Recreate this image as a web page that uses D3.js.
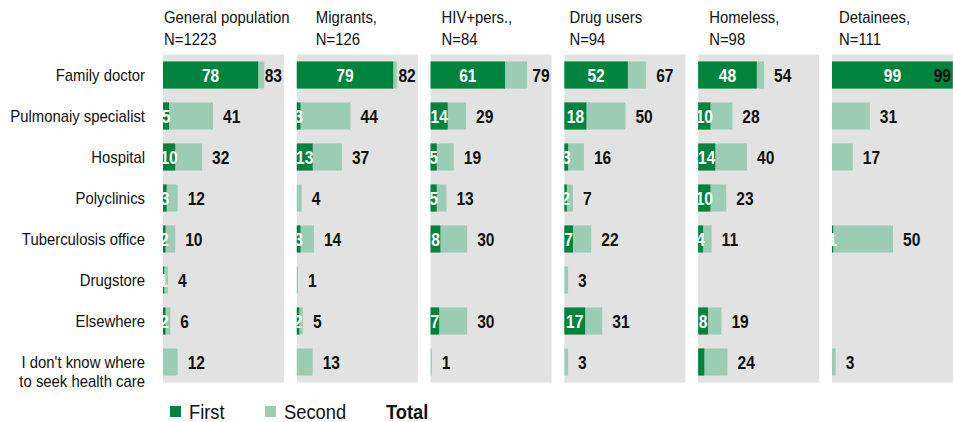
<!DOCTYPE html>
<html>
<head>
<meta charset="utf-8">
<script src="https://cdn.jsdelivr.net/npm/d3@7"></script>
<style>
  body { margin: 0; background: #fff; }
  text { font-family: "Liberation Sans", Arial, sans-serif; }
  .val { font-weight: bold; }
</style>
</head>
<body>
<script>
// Width and height
var w = 953;
var h = 422;

// categories (rows) - typo kept as in the source
var categories = ["Family doctor", "Pulmonaiy specialist", "Hospital", "Polyclinics",
  "Tuberculosis office", "Drugstore", "Elsewhere", "I don't know where\nto seek health care"];

// groups (panels)
var groups = ["General population", "Migrants,", "HIV+pers.,", "Drug users", "Homeless,", "Detainees,"];
var groupN = ["N=1223", "N=126", "N=84", "N=94", "N=98", "N=111"];

// first choice, per group, per category (null = no bar)
var first = [
  [78, 5, 10, 3, 2, 1, 2, 0],
  [79, 3, 13, 0, 3, 0, 2, 0],
  [61, 14, 5, 5, 8, null, 7, 0],
  [52, 18, 3, 2, 7, 0, 17, 0],
  [48, 10, 14, 10, 4, null, 8, 5],
  [99, 0, 0, null, 1, null, null, 0]
];
// total (first + second)
var total = [
  [83, 41, 32, 12, 10, 4, 6, 12],
  [82, 44, 37, 4, 14, 1, 5, 13],
  [79, 29, 19, 13, 30, null, 30, 1],
  [67, 50, 16, 7, 22, 3, 31, 3],
  [54, 28, 40, 23, 11, null, 19, 24],
  [99, 31, 17, null, 50, null, null, 3]
];

var legendItems = ["First", "Second"];

var dark = "#00843d";
var light = "#9acdb3";
var panelBg = "#e2e2e2";

// header offsets inside each panel (layout only)
var headerDx = [1, 19, 11, 5, 11, 7];

// the source uses a narrowish face, squeeze text horizontally
var sqText = 0.93;
var sqVal = 0.82;

function place(sel, tx, ty, sx) {
  sel.attr("transform", "translate(" + tx + "," + ty + ") scale(" + sx + ",1)");
}

var svg = d3.select("body")
    .append("svg")
    .attr("width", w)
    .attr("height", h);

var gx = d3.scaleBand()
    .domain(groups)
    .range([163, 953])
    .paddingInner(0.0957)
    .paddingOuter(0);

var y = d3.scaleBand()
    .domain(categories)
    .range([54.5, 382.5])
    .paddingInner(0.34)
    .paddingOuter(0.17);

var x = d3.scaleLinear().domain([0, 100]).range([0, 122]);

var pw = gx.bandwidth();
var bh = y.bandwidth();

// category labels
categories.forEach(function(d) {
  d.split("\n").forEach(function(l, i) {
    svg.append("text")
        .attr("text-anchor", "end")
        .attr("font-size", "16px")
        .attr("fill", "#111")
        .text(l)
        .call(place, 145, y(d) + bh / 2 + 5.5 + i * 19, sqText);
  });
});

var defs = svg.append("defs");

groups.forEach(function(g, gi) {
  var px = gx(g);
  var panel = svg.append("g").attr("transform", "translate(" + px + ",0)");

  // header
  panel.append("text")
      .attr("font-size", "16px")
      .attr("fill", "#111")
      .text(g)
      .call(place, headerDx[gi], 22.5, sqText);
  panel.append("text")
      .attr("font-size", "16px")
      .attr("fill", "#111")
      .text(groupN[gi])
      .call(place, headerDx[gi], 44.5, sqText);

  panel.append("rect")
      .attr("x", 0)
      .attr("y", 54.5)
      .attr("width", pw)
      .attr("height", 328)
      .attr("fill", panelBg);

  defs.append("clipPath")
      .attr("id", "clip" + gi)
      .append("rect")
      .attr("x", px)
      .attr("y", 50)
      .attr("width", pw + 2)
      .attr("height", 340);

  var rows = categories.map(function(c, ci) {
    return {cat: c, ci: ci, first: first[gi][ci], total: total[gi][ci]};
  }).filter(function(d) { return d.total !== null; });

  // total bar (light)
  panel.selectAll("rect.tot")
      .data(rows)
      .enter()
      .append("rect")
      .attr("class", "tot")
      .attr("x", 0)
      .attr("y", function(d) { return y(d.cat); })
      .attr("width", function(d) { return x(d.total); })
      .attr("height", bh)
      .attr("fill", light);

  // first bar (dark)
  panel.selectAll("rect.first")
      .data(rows.filter(function(d) { return d.first; }))
      .enter()
      .append("rect")
      .attr("class", "first")
      .attr("x", 0)
      .attr("y", function(d) { return y(d.cat); })
      .attr("width", function(d) { return x(d.first); })
      .attr("height", bh)
      .attr("fill", dark);

  // inner first labels, clipped to the panel
  var inner = svg.append("g").attr("clip-path", "url(#clip" + gi + ")");
  inner.selectAll("text")
      .data(rows.filter(function(d) { return d.first && d.ci < categories.length - 1; }))
      .enter()
      .append("text")
      .attr("class", "val")
      .attr("text-anchor", "middle")
      .attr("font-size", "19px")
      .attr("fill", "#fff")
      .text(function(d) { return d.first; })
      .each(function(d) {
    place(d3.select(this), px + x(d.first) / 2, y(d.cat) + bh / 2 + 7, sqVal);
  });

  // total labels
  panel.selectAll("text.tl")
      .data(rows)
      .enter()
      .append("text")
      .attr("class", "val tl")
      .attr("font-size", "19px")
      .attr("fill", "#111")
      .text(function(d) { return d.total; })
      .each(function(d) {
    var tw = this.getComputedTextLength() * sqVal;
    var tx = x(d.total) + 10;
    if (tx + tw > pw - 2) tx = pw - 2 - tw;
    place(d3.select(this), tx, y(d.cat) + bh / 2 + 7, sqVal);
  });
});

// legend
var lg = svg.append("g");
var lx = [170, 265];
lg.selectAll("rect")
    .data(legendItems)
    .enter()
    .append("rect")
    .attr("x", function(d, i) { return lx[i]; })
    .attr("y", 406)
    .attr("width", 11)
    .attr("height", 11)
    .attr("fill", function(d, i) { return i === 0 ? dark : light; });
lg.selectAll("text")
    .data(legendItems)
    .enter()
    .append("text")
    .attr("font-size", "19.5px")
    .attr("fill", "#111")
    .text(function(d) { return d; })
    .each(function(d, i) {
  place(d3.select(this), lx[i] + 19, 418.5, 0.94);
});
lg.append("text")
    .attr("font-size", "19.5px")
    .attr("font-weight", "bold")
    .attr("fill", "#111")
    .text("Total")
    .call(place, 386, 418.5, 0.94);
</script>
</body>
</html>
